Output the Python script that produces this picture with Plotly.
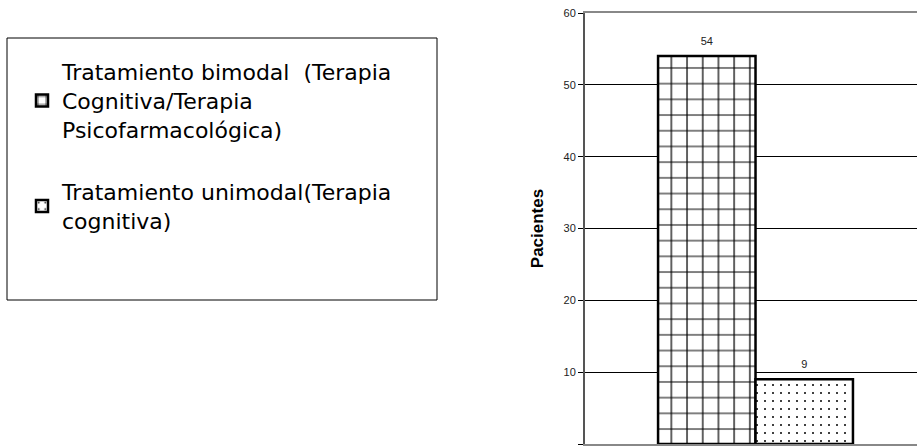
import plotly.graph_objects as go

categories = ["Tratamiento"]
series_names = [
    "Tratamiento bimodal  (Terapia<br>Cognitiva/Terapia<br>Psicofarmacológica)",
    "Tratamiento unimodal(Terapia<br>cognitiva)",
]
bimodal = [54]
unimodal = [9]
y_ticks = [0, 10, 20, 30, 40, 50, 60]

fig = go.Figure()
specs = [
    (bimodal, series_names[0], "a", dict(shape="+", size=15.7, solidity=0.15)),
    (unimodal, series_names[1], "b", dict(shape=".", size=8, solidity=0.05)),
]
for vals, name, grp, pat in specs:
    fig.add_trace(go.Bar(
        x=categories, y=vals, name=name, legendgroup=grp, offsetgroup=grp,
        marker=dict(color="white", line=dict(color="black", width=2.5),
                    pattern=dict(fgcolor="black", bgcolor="white",
                                 fillmode="replace", **pat)),
    ))
for vals, name, grp, pat in specs:
    fig.add_trace(go.Scatter(
        x=categories, y=vals, mode="text+markers", offsetgroup=grp,
        legendgroup=grp, showlegend=False, hoverinfo="skip",
        marker=dict(size=12, color="rgba(0,0,0,0)"),
        text=[str(v) for v in vals], textposition="top center",
        textfont=dict(family="Arial", size=11, color="#222"),
        cliponaxis=False,
    ))

fig.update_layout(
    width=917, height=447,
    margin=dict(l=0, r=0, t=13, b=3),
    paper_bgcolor="white", plot_bgcolor="white",
    barmode="group", bargap=0.413, bargroupgap=0,
    scattermode="group", scattergap=0.413,
    showlegend=True,
    legend=dict(x=22/917, y=(444-51)/431, xanchor="left", yanchor="top",
                font=dict(family="DejaVu Sans", size=22, color="black"),
                tracegroupgap=31, traceorder="grouped",
                bgcolor="rgba(0,0,0,0)", borderwidth=0),
    shapes=[dict(type="rect", xref="paper", yref="paper",
                 x0=7/917, x1=437/917, y0=(444-300)/431, y1=(444-38)/431,
                 line=dict(color="black", width=1), fillcolor="rgba(0,0,0,0)")],
    font=dict(family="Arial"),
)
fig.update_xaxes(domain=[585/917, 1], range=[-0.5136, 0.4864],
                 showticklabels=False, showgrid=False,
                 showline=True, mirror=True, linecolor="#888", linewidth=2, ticks="")
fig.update_yaxes(range=[0, 60], tickvals=y_ticks,
                 showgrid=True, gridcolor="black", gridwidth=1,
                 showline=True, linecolor="#555", linewidth=2,
                 ticks="outside", ticklen=5, tickcolor="black",
                 tickfont=dict(family="Arial", size=11, color="#222"),
                 zeroline=False,
                 title=dict(text="<b>Pacientes</b>", standoff=16,
                            font=dict(family="Arial", size=17, color="black")))

fig.write_html("out.html", config={"displayModeBar": False},
               post_script="document.body.style.margin='0';document.body.style.overflow='hidden';")
